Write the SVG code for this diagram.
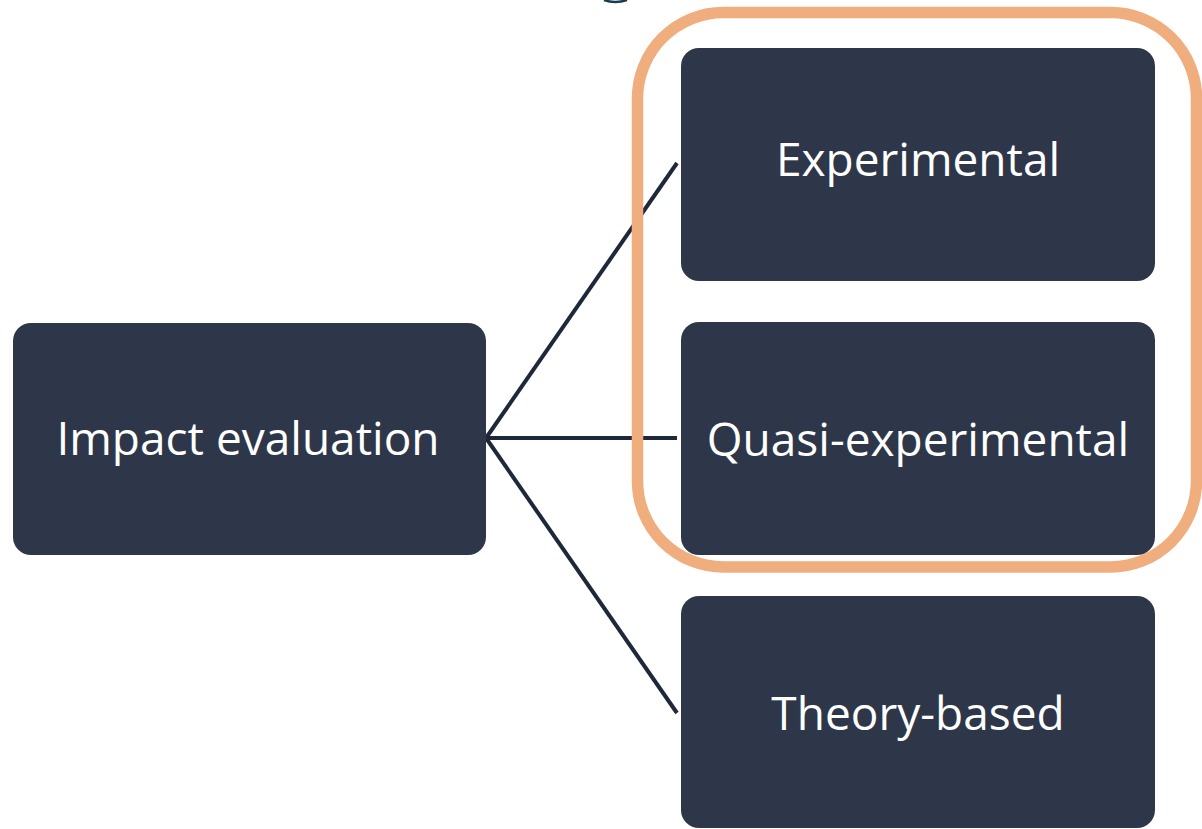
<svg xmlns="http://www.w3.org/2000/svg" width="1202" height="829" viewBox="0 0 1202 829">
  <style>
    .node rect { fill: #2d3749; }
    .node text { fill: #ffffff; font-family: "Open Sans", "Liberation Sans", sans-serif; font-size: 46px; text-anchor: middle; }
    .conn line { stroke: #1f2839; stroke-width: 4; stroke-linecap: butt; }
  </style>
  <rect x="0" y="0" width="1202" height="829" fill="#ffffff"/>
  <path d="M604,0 Q615,4 627,0" fill="none" stroke="#1b3a4e" stroke-width="2.5"/>
  <g id="connectors" class="conn">
    <line x1="486" y1="438" x2="677" y2="163"/>
    <line x1="486" y1="438" x2="677" y2="438"/>
    <line x1="486" y1="438" x2="677" y2="713"/>
  </g>
  <rect id="highlight" x="637.5" y="12.5" width="559" height="554.5" rx="86" ry="86" fill="none" stroke="#f0ae7f" stroke-width="11.5"/>
  <g id="node-impact" class="node">
    <rect x="13" y="323" width="473" height="232" rx="18" ry="18"/>
    <text x="248" y="455">Impact evaluation</text>
  </g>
  <g id="node-experimental" class="node">
    <rect x="681" y="48" width="474" height="233" rx="18" ry="18"/>
    <text x="918" y="176">Experimental</text>
  </g>
  <g id="node-quasi" class="node">
    <rect x="681" y="322" width="474" height="233" rx="18" ry="18"/>
    <text x="918" y="456">Quasi-experimental</text>
  </g>
  <g id="node-theory" class="node">
    <rect x="681" y="596" width="474" height="232" rx="18" ry="18"/>
    <text x="918" y="730">Theory-based</text>
  </g>
</svg>
